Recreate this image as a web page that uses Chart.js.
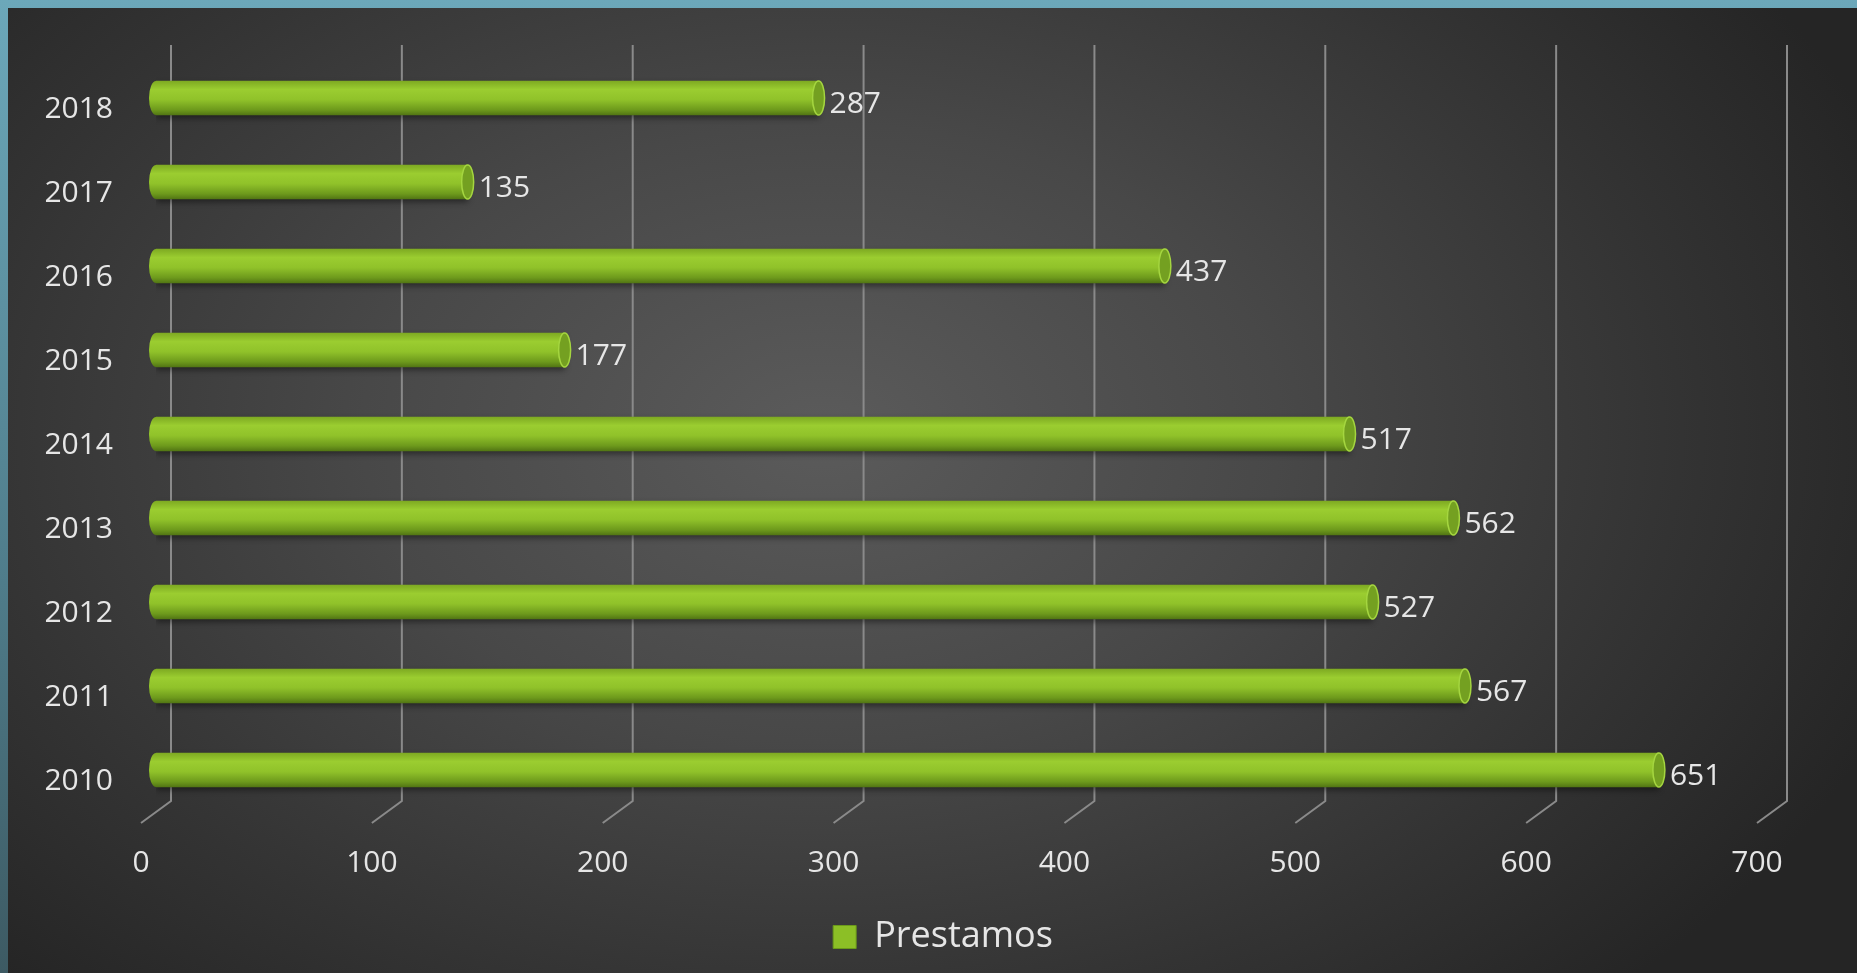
<!DOCTYPE html>
<html lang="es">
<head>
<meta charset="utf-8">
<title>Prestamos</title>
<script src="https://cdn.jsdelivr.net/npm/chart.js@4/dist/chart.umd.min.js"></script>
<style>
  html, body {
    margin: 0;
    width: 1857px;
    height: 973px;
    overflow: hidden;
    background: linear-gradient(180deg, #6ca8ba 0%, #4f7c8a 60%, #3d5a63 100%);
  }
  #panel {
    position: absolute;
    left: 8px; top: 8px; right: 0; bottom: 0;
    background: radial-gradient(ellipse 62% 80% at 44% 44%, #5b5b5b 0%, #484848 40%, #333 75%, #252525 100%);
  }
  #wrap {
    position: absolute;
    left: 0; top: 0;
    width: 1857px;
    height: 973px;
  }
</style>
</head>
<body>
<div id="panel"></div>
<div id="wrap"><canvas id="chart"></canvas></div>
<script>
// data, bottom (2010) to top (2018)
const years = ['2010', '2011', '2012', '2013', '2014', '2015', '2016', '2017', '2018'];
const prestamos = [651, 567, 527, 562, 517, 177, 437, 135, 287];
const seriesName = 'Prestamos';
const xTicks = [0, 100, 200, 300, 400, 500, 600, 700];

const BAR_PX = 34;
const DEPTH = 15; // half of the fake 3d depth offset
const TEXT = '#e6e6e6';
const FONT = "'Open Sans', 'Noto Sans', sans-serif";

function cylinderGradient(ctx, y) {
  const half = BAR_PX / 2;
  const g = ctx.createLinearGradient(0, y - half, 0, y + half);
  g.addColorStop(0, '#7eaa22');
  g.addColorStop(0.25, '#9bcd30');
  g.addColorStop(0.55, '#90c22a');
  g.addColorStop(0.85, '#6d991c');
  g.addColorStop(1, '#527614');
  return g;
}

function barFill(c) {
  const chart = c.chart;
  if (!chart.chartArea || c.type !== 'data') return '#8dbd28';
  const y = chart.scales.y.getPixelForValue(c.dataIndex);
  return cylinderGradient(chart.ctx, y);
}

// back-wall grid lines with the slanted floor ticks
const grid3d = {
  id: 'grid3d',
  beforeDatasetsDraw(chart) {
    const { ctx, chartArea, scales: { x } } = chart;
    ctx.save();
    ctx.strokeStyle = '#8a8a8a';
    ctx.lineWidth = 2;
    xTicks.forEach(v => {
      const px = x.getPixelForValue(v);
      ctx.beginPath();
      ctx.moveTo(px + DEPTH, chartArea.top - 11);
      ctx.lineTo(px + DEPTH, chartArea.bottom - 11);
      ctx.lineTo(px - DEPTH, chartArea.bottom + 11);
      ctx.stroke();
    });
    ctx.restore();
  }
};

const barShadow = {
  id: 'barShadow',
  beforeDatasetDraw(chart) {
    const ctx = chart.ctx;
    ctx.save();
    ctx.shadowColor = 'rgba(0,0,0,0.45)';
    ctx.shadowBlur = 6;
    ctx.shadowOffsetY = 3;
  },
  afterDatasetDraw(chart) {
    chart.ctx.restore();
  }
};

// year labels, drawn here because the axis box clips them
const yearLabels = {
  id: 'yearLabels',
  afterDraw(chart) {
    const { ctx, chartArea, scales: { y } } = chart;
    ctx.save();
    ctx.fillStyle = TEXT;
    ctx.font = `30px ${FONT}`;
    ctx.textAlign = 'right';
    ctx.textBaseline = 'middle';
    years.forEach((label, i) => {
      ctx.fillText(label, chartArea.left - 43, y.getPixelForValue(i) + 11);
    });
    ctx.restore();
  }
};

// rounded ends of the cylinders and the value labels
const capsAndLabels = {
  id: 'capsAndLabels',
  afterDatasetsDraw(chart) {
    const ctx = chart.ctx;
    const meta = chart.getDatasetMeta(0);
    ctx.save();
    meta.data.forEach((bar, i) => {
      const half = BAR_PX / 2;
      // left end
      ctx.fillStyle = cylinderGradient(ctx, bar.y);
      ctx.beginPath();
      ctx.ellipse(bar.base, bar.y, 7, half, 0, 0, Math.PI * 2);
      ctx.fill();
      // right end
      ctx.fillStyle = '#74a021';
      ctx.strokeStyle = '#a5d640';
      ctx.lineWidth = 1.5;
      ctx.beginPath();
      ctx.ellipse(bar.x, bar.y, 6, half, 0, 0, Math.PI * 2);
      ctx.fill();
      ctx.stroke();

      ctx.fillStyle = TEXT;
      ctx.font = `30px ${FONT}`;
      ctx.textAlign = 'left';
      ctx.textBaseline = 'middle';
      ctx.fillText(String(prestamos[i]), bar.x + 11, bar.y + 6);
    });
    ctx.restore();
  }
};

new Chart(document.getElementById('chart'), {
  type: 'bar',
  data: {
    labels: years,
    datasets: [{
      label: seriesName,
      data: prestamos,
      backgroundColor: barFill,
      borderWidth: 0,
      barThickness: BAR_PX
    }]
  },
  options: {
    indexAxis: 'y',
    responsive: true,
    maintainAspectRatio: false,
    animation: false,
    layout: { padding: { top: 56, right: 85, bottom: 8, left: 114 } },
    scales: {
      x: {
        min: 0,
        max: 700,
        afterBuildTicks: s => { s.ticks = xTicks.map(v => ({ value: v })); },
        afterFit: s => { s.height = 99; },
        grid: { display: false, drawTicks: false },
        border: { display: false },
        ticks: { color: TEXT, font: { family: FONT, size: 30 }, padding: 33, labelOffset: -DEPTH }
      },
      y: {
        reverse: true,
        afterFit: s => { s.width = 42; },
        grid: { display: false, drawTicks: false },
        border: { display: false },
        ticks: { display: false }
      }
    },
    plugins: {
      legend: {
        position: 'bottom',
        labels: {
          boxWidth: 23,
          boxHeight: 23,
          padding: 8,
          color: TEXT,
          font: { family: FONT, size: 36 },
          generateLabels: () => [{
            text: seriesName,
            fillStyle: '#8cbf26',
            strokeStyle: '#6b9a1a',
            lineWidth: 1,
            fontColor: TEXT,
            hidden: false,
            datasetIndex: 0
          }]
        }
      },
      tooltip: { enabled: false }
    }
  },
  plugins: [grid3d, barShadow, capsAndLabels, yearLabels]
});
</script>
</body>
</html>
